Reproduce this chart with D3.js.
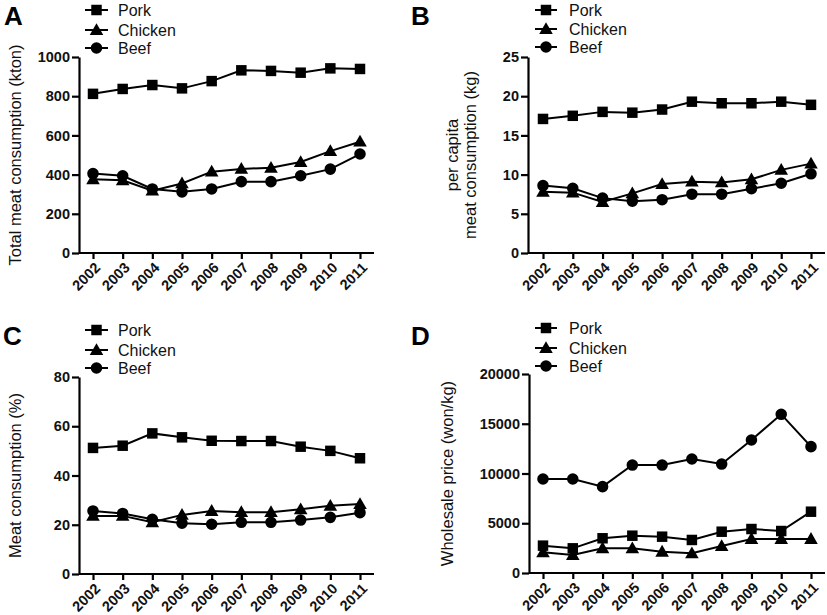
<!DOCTYPE html>
<html><head><meta charset="utf-8">
<script src="https://cdn.jsdelivr.net/npm/d3@7"></script>
<style>body{margin:0;background:#fff;}svg{display:block;font-family:"Liberation Sans",Arial,sans-serif;}</style>
</head><body>
<svg id="c" width="827" height="615"></svg>
<script>
const years = ["2002","2003","2004","2005","2006","2007","2008","2009","2010","2011"];
const seriesNames = ["Pork","Chicken","Beef"];

// Panel A: Total meat consumption (kton)
const aPork    = [812, 837, 857, 840, 877, 932, 929, 920, 942, 939];
const aChicken = [376, 371, 318, 355, 415, 429, 435, 464, 520, 568];
const aBeef    = [405, 394, 327, 312, 327, 364, 364, 394, 428, 505];
const aTicks   = [0, 200, 400, 600, 800, 1000];

// Panel B: per capita meat consumption (kg)
const bPork    = [17.1, 17.5, 18.0, 17.9, 18.3, 19.3, 19.1, 19.1, 19.3, 18.9];
const bChicken = [7.8, 7.7, 6.5, 7.6, 8.8, 9.1, 9.0, 9.4, 10.6, 11.4];
const bBeef    = [8.6, 8.25, 7.0, 6.6, 6.8, 7.5, 7.5, 8.2, 8.9, 10.1];
const bTicks   = [0, 5, 10, 15, 20, 25];

// Panel C: Meat consumption (%)
const cPork    = [51.2, 52.1, 57.1, 55.5, 54.1, 54.0, 54.0, 51.7, 50.0, 47.0];
const cChicken = [23.6, 23.6, 21.0, 24.0, 25.6, 25.1, 25.1, 26.3, 27.7, 28.4];
const cBeef    = [25.6, 24.6, 22.2, 20.6, 20.2, 21.0, 21.0, 21.9, 23.0, 24.9];
const cTicks   = [0, 20, 40, 60, 80];

// Panel D: Wholesale price (won/kg)
const dPork    = [2750, 2480, 3490, 3750, 3650, 3320, 4150, 4420, 4220, 6160];
const dChicken = [2080, 1810, 2480, 2480, 2140, 1980, 2710, 3420, 3420, 3420];
const dBeef    = [9450, 9450, 8680, 10850, 10850, 11460, 10950, 13370, 15950, 12700];
const dTicks   = [0, 5000, 10000, 15000, 20000];

const svg = d3.select("#c");
const symFor = {Pork: d3.symbolSquare, Chicken: d3.symbolTriangle, Beef: d3.symbolCircle};
const symSize = {Pork: 110, Chicken: 80, Beef: 105};

const panels = [
  {label:"A", lx:4, ly:25, left:79, right:374, top:57, bottom:253, x0:93, x1:360,
   max:1000, ticks:aTicks, data:[aPork,aChicken,aBeef], title:["Total meat consumption (kton)"], tx:21,
   leg:{x1:85, x2:108, tx:118, y:[10,30,48]}},
  {label:"B", lx:411, ly:25, left:528, right:825, top:57, bottom:253, x0:543, x1:811,
   max:25, ticks:bTicks, data:[bPork,bChicken,bBeef], title:["per capita","meat consumption (kg)"], tx:470,
   leg:{x1:535, x2:557, tx:569, y:[10,29,47]}},
  {label:"C", lx:3, ly:345, left:79, right:374, top:377, bottom:574, x0:93, x1:360,
   max:80, ticks:cTicks, data:[cPork,cChicken,cBeef], title:["Meat consumption (%)"], tx:21,
   leg:{x1:85, x2:108, tx:118, y:[330,350,368]}},
  {label:"D", lx:411, ly:345, left:529, right:825, top:374, bottom:573, x0:543, x1:811,
   max:20000, ticks:dTicks, data:[dPork,dChicken,dBeef], title:["Wholesale price (won/kg)"], tx:453,
   leg:{x1:535, x2:557, tx:569, y:[328,348,366]}}
];

panels.forEach(p => {
  const g = svg.append("g");
  const x = d3.scalePoint().domain(years).range([p.x0, p.x1]);
  const y = d3.scaleLinear().domain([0, p.max]).range([p.bottom, p.top]);

  // panel label
  g.append("text").attr("x", p.lx).attr("y", p.ly).attr("font-size", 26).attr("font-weight", "bold")
    .attr("fill", "#000").text(p.label);

  // y axis
  const ya = g.append("g").attr("transform", `translate(${p.left},0)`)
    .call(d3.axisLeft(y).tickValues(p.ticks).tickFormat(d3.format("d")).tickSize(7).tickSizeOuter(0).tickPadding(2));
  ya.select(".domain").attr("stroke", "#000").attr("stroke-width", 2.2);
  ya.selectAll(".tick line").attr("stroke", "#000").attr("stroke-width", 2.2);
  ya.selectAll(".tick text").attr("font-size", 14.5).attr("font-weight", "bold").attr("fill", "#111")
    .attr("font-family", "Liberation Sans, Arial, sans-serif");

  // x axis
  const xa = g.append("g").attr("transform", `translate(0,${p.bottom})`)
    .call(d3.axisBottom(x).tickSize(6).tickSizeOuter(0));
  xa.select(".domain").attr("d", `M${p.left},0H${p.right}`).attr("stroke", "#000").attr("stroke-width", 2.2);
  xa.selectAll(".tick line").attr("stroke", "#000").attr("stroke-width", 2.2);
  xa.selectAll(".tick text").attr("font-size", 14.5).attr("font-weight", "bold").attr("fill", "#111")
    .attr("font-family", "Liberation Sans, Arial, sans-serif")
    .attr("text-anchor", "end").attr("x", 0).attr("y", 0).attr("dy", "0.35em")
    .attr("transform", "translate(4,12) rotate(-45)");

  // y title
  const cy = (p.top + p.bottom) / 2;
  const t = g.append("text").attr("transform", `translate(${p.tx},${cy}) rotate(-90)`)
    .attr("text-anchor", "middle").attr("font-size", 16.5).attr("fill", "#111");
  if (p.title.length === 1) {
    t.append("tspan").attr("x", 0).attr("y", 0).text(p.title[0]);
  } else {
    t.append("tspan").attr("x", 0).attr("y", -12).text(p.title[0]);
    t.append("tspan").attr("x", 0).attr("y", 6).text(p.title[1]);
  }

  // series
  const line = d3.line().x((d, i) => x(years[i])).y(d => y(d));
  seriesNames.forEach((name, si) => {
    const vals = p.data[si];
    g.append("path").datum(vals).attr("d", line).attr("fill", "none")
      .attr("stroke", "#000").attr("stroke-width", 2);
  });
  seriesNames.forEach((name, si) => {
    const vals = p.data[si];
    const sym = d3.symbol().type(symFor[name]).size(symSize[name]);
    g.selectAll(null).data(vals).enter().append("path")
      .attr("d", sym)
      .attr("transform", (d, i) => `translate(${x(years[i])},${y(d) + (name === "Chicken" ? 1 : 0)})`)
      .attr("fill", "#000");
  });

  // legend
  seriesNames.forEach((name, si) => {
    const ly = p.leg.y[si];
    g.append("line").attr("x1", p.leg.x1).attr("x2", p.leg.x2).attr("y1", ly).attr("y2", ly)
      .attr("stroke", "#000").attr("stroke-width", 2);
    g.append("path").attr("d", d3.symbol().type(symFor[name]).size(symSize[name])())
      .attr("transform", `translate(${(p.leg.x1 + p.leg.x2) / 2},${ly + (name === "Chicken" ? 1 : 0)})`)
      .attr("fill", "#000");
    g.append("text").attr("x", p.leg.tx).attr("y", ly).attr("dy", "0.35em")
      .attr("font-size", 16).attr("fill", "#111").text(name);
  });
});
</script>
</body></html>
